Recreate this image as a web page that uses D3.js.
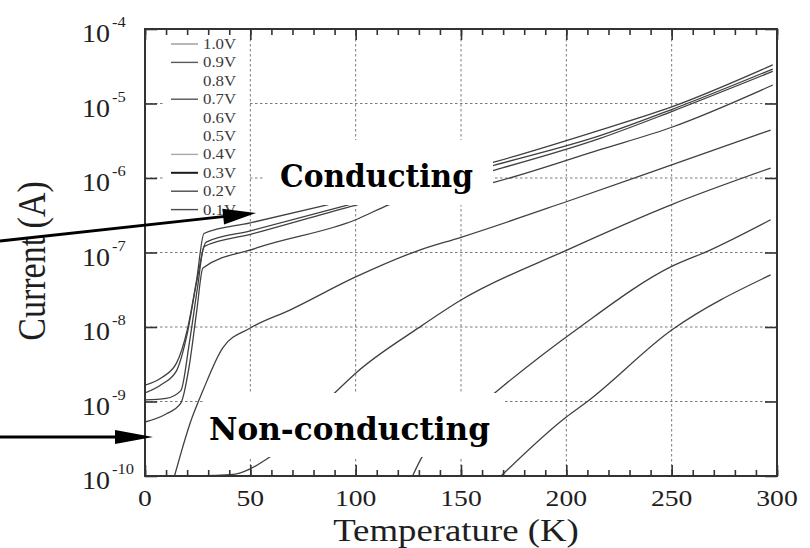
<!DOCTYPE html>
<html><head><meta charset="utf-8">
<script src="https://cdn.jsdelivr.net/npm/d3@7/dist/d3.min.js"></script>
<style>body{margin:0;background:#fff}svg{display:block}</style>
</head><body>
<svg id="c" width="810" height="548"></svg>
<script>
// ---------------- data ----------------
const xTickValues = [0, 50, 100, 150, 200, 250, 300];
const yExponents = [-4, -5, -6, -7, -8, -9, -10];
const legendLabels = ["1.0V","0.9V","0.8V","0.7V","0.6V","0.5V","0.4V","0.3V","0.2V","0.1V"];
const legendHasLine = [true, true, false, true, false, false, true, true, true, true];
const legendShade = ["#9a9a9a","#5a5a5a","","#555","","","#a8a8a8","#1a1a1a","#4a4a4a","#4a4a4a"];

// [temperature K, current A]
const curve10V = [[0,1.66e-9],[8,2.1e-9],[15,3.3e-9],[20,9e-9],[24.5,4.3e-8],[28,1.8e-7],[50,2.5e-7],[87,4.4e-7],[166,1.64e-6],[216,4.4e-6],[250,9e-6],[298,3.3e-5]];
const curve09V = [[0,1.3e-9],[8,1.7e-9],[15,2.6e-9],[20,8e-9],[24.5,4e-8],[29,1.38e-7],[50,1.95e-7],[97,4.4e-7],[166,1.49e-6],[216,3.7e-6],[250,8.3e-6],[298,2.9e-5]];
const curve08V = [[0,1.05e-9],[10,1.1e-9],[17,1.4e-9],[21,6e-9],[25,3.5e-8],[28,1.2e-7],[50,1.75e-7],[97,4.1e-7],[166,1.28e-6],[216,3.4e-6],[250,7.8e-6],[298,2.7e-5]];
const curve07V = [[0,5.3e-10],[10,6.8e-10],[17,9.5e-10],[21,3e-9],[24.5,1.6e-8],[27.5,6.2e-8],[53,1.15e-7],[100,2.75e-7],[116,4.4e-7],[166,8.8e-7],[216,2.4e-6],[250,4.8e-6],[298,1.77e-5]];
const curve04V = [[14,1e-10],[17,2e-10],[21.4,5.1e-10],[27.5,1.4e-9],[37,5.3e-9],[50,9.7e-9],[69,1.7e-8],[100,4.7e-8],[130,1.07e-7],[150,1.6e-7],[200,4.8e-7],[250,1.5e-6],[297,4.4e-6]];
const curve03V = [[22,1.0e-10],[42,1.05e-10],[50,1.25e-10],[58,1.7e-10],[90,1.3e-9],[100,2.4e-9],[130,9.8e-9],[150,2.3e-8],[200,1.07e-7],[250,4.4e-7],[297,1.36e-6]];
const curve02V = [[127,1.0e-10],[131,1.7e-10],[166,1.3e-9],[206,9.8e-9],[250,6.5e-8],[268,1.07e-7],[297,2.75e-7]];
const curve01V = [[169,1.0e-10],[200,6.2e-10],[210,1e-9],[250,9.1e-9],[297,5e-8]];
const curves = [curve10V, curve09V, curve08V, curve07V, curve04V, curve03V, curve02V, curve01V];

// ---------------- drawing ----------------
const svg = d3.select("#c");
const x = d3.scaleLinear().domain([0, 300]).range([145, 777]);
const y = d3.scaleLog().domain([1e-10, 1e-4]).range([476, 29]);
const X0 = x(0), X1 = x(300), Y0 = y(1e-10), Y1 = y(1e-4);
const serif = "'Liberation Serif','Times New Roman',serif";
const ink = "#1e1e1e";

function stretch(sel, k) {
  sel.each(function () {
    const L = this.getComputedTextLength();
    this.setAttribute("textLength", L * k);
    this.setAttribute("lengthAdjust", "spacingAndGlyphs");
  });
}

svg.append("rect").attr("width", 810).attr("height", 548).attr("fill", "#fff");

// grid
const grid = svg.append("g").attr("stroke", "#7a7a7a").attr("stroke-width", 1).attr("stroke-dasharray", "2.5,2.5");
grid.selectAll("line.v").data(xTickValues.slice(1, -1)).join("line")
  .attr("x1", d => x(d)).attr("x2", d => x(d)).attr("y1", Y1).attr("y2", Y0);
grid.selectAll("line.h").data(yExponents.slice(1, -1)).join("line")
  .attr("y1", d => y(Math.pow(10, d))).attr("y2", d => y(Math.pow(10, d))).attr("x1", X0).attr("x2", X1);

// curves
svg.append("clipPath").attr("id", "plot").append("rect")
  .attr("x", X0).attr("y", Y1).attr("width", X1 - X0).attr("height", Y0 - Y1);
const line = d3.line().x(d => x(d[0])).y(d => y(d[1])).curve(d3.curveMonotoneX);
svg.append("g").attr("clip-path", "url(#plot)")
  .selectAll("path").data(curves).join("path")
  .attr("d", line).attr("fill", "none").attr("stroke", "#404040").attr("stroke-width", 1.3);

// white label boxes
svg.append("rect").attr("x", 265).attr("y", 140).attr("width", 228).attr("height", 65).attr("fill", "#fff");
svg.append("rect").attr("x", 203).attr("y", 393).attr("width", 302).attr("height", 64).attr("fill", "#fff");
svg.append("rect").attr("x", 165).attr("y", 36).attr("width", 83).attr("height", 183).attr("fill", "#fff");

// legend
const lg = svg.append("g");
legendLabels.forEach((lab, i) => {
  const ly = 44 + i * 18.4;
  if (legendHasLine[i]) {
    lg.append("line").attr("x1", 171).attr("x2", 198).attr("y1", ly).attr("y2", ly)
      .attr("stroke", legendShade[i]).attr("stroke-width", i === 7 ? 2 : 1.4);
  }
  lg.append("text").attr("x", 203).attr("y", ly + 5).text(lab)
    .attr("font-family", serif).attr("font-size", 15).attr("fill", "#3a3a3a")
    .call(stretch, 1.12);
});

// axes (ticks via d3 axes, pointing inward)
const axT = d3.axisTop(x).tickValues(d3.range(0, 301, 10)).tickSize(-6).tickFormat("");
const axB = d3.axisBottom(x).tickValues(d3.range(0, 301, 10)).tickSize(-6).tickFormat("");
const axBm = d3.axisBottom(x).tickValues(xTickValues).tickSize(-11).tickFormat("");
const axTm = d3.axisTop(x).tickValues(xTickValues).tickSize(-11).tickFormat("");
const yVals = yExponents.map(e => Math.pow(10, e));
const axL = d3.axisLeft(y).tickValues(yVals).tickSize(-12).tickFormat("");
const axR = d3.axisRight(y).tickValues(yVals).tickSize(-12).tickFormat("");
function styleAxis(g) {
  g.select(".domain").remove();
  g.selectAll(".tick line").attr("stroke", "#333").attr("stroke-width", 1.6);
}
svg.append("g").attr("transform", `translate(0,${Y1})`).call(axT).call(styleAxis);
svg.append("g").attr("transform", `translate(0,${Y1})`).call(axTm).call(styleAxis);
svg.append("g").attr("transform", `translate(0,${Y0})`).call(axB).call(styleAxis);
svg.append("g").attr("transform", `translate(0,${Y0})`).call(axBm).call(styleAxis);
svg.append("g").attr("transform", `translate(${X0},0)`).call(axL).call(styleAxis);
svg.append("g").attr("transform", `translate(${X1},0)`).call(axR).call(styleAxis);

// frame
svg.append("rect").attr("x", X0).attr("y", Y1).attr("width", X1 - X0).attr("height", Y0 - Y1)
  .attr("fill", "none").attr("stroke", "#333").attr("stroke-width", 2);

// x tick labels
svg.append("g").selectAll("text").data(xTickValues).join("text")
  .attr("x", d => x(d)).attr("y", Y0 + 30).attr("text-anchor", "middle")
  .attr("font-family", serif).attr("font-size", 24).attr("fill", ink)
  .text(d => d).call(stretch, 1.15);

// y tick labels
const yl = svg.append("g").attr("font-family", serif).attr("fill", ink);
yl.selectAll("text.b").data(yExponents).join("text")
  .attr("x", 110).attr("y", d => y(Math.pow(10, d)) + 13).attr("text-anchor", "end")
  .attr("font-size", 25).text("10").call(stretch, 1.12);
yl.selectAll("text.e").data(yExponents).join("text")
  .attr("x", 112).attr("y", d => y(Math.pow(10, d)) - 2)
  .attr("font-size", 15).text(d => String(d)).call(stretch, 1.1);

// axis titles
svg.append("text").attr("x", 456).attr("y", 541).attr("text-anchor", "middle")
  .attr("font-family", serif).attr("font-size", 32).attr("fill", ink)
  .text("Temperature (K)").call(stretch, 1.15);
svg.append("text").attr("transform", "translate(45,261) scale(1.15,1) rotate(-90)")
  .attr("text-anchor", "middle").attr("font-family", serif).attr("font-size", 34).attr("fill", ink)
  .text("Current (A)");

// annotations
const bold = "'DejaVu Serif',serif";
svg.append("text").attr("x", 280).attr("y", 187).attr("font-family", bold).attr("font-weight", "bold")
  .attr("font-size", 31).attr("fill", "#000").text("Conducting")
  .attr("textLength", 193).attr("lengthAdjust", "spacingAndGlyphs");
svg.append("text").attr("x", 209).attr("y", 440).attr("font-family", bold).attr("font-weight", "bold")
  .attr("font-size", 31).attr("fill", "#000").text("Non-conducting")
  .attr("textLength", 281).attr("lengthAdjust", "spacingAndGlyphs");

function arrow(x1, y1, x2, y2, headLen, headHalf) {
  const dx = x2 - x1, dy = y2 - y1, L = Math.hypot(dx, dy);
  const ux = dx / L, uy = dy / L, nx = -uy, ny = ux;
  const bx = x2 - ux * headLen, by = y2 - uy * headLen;
  svg.append("line").attr("x1", x1).attr("y1", y1).attr("x2", bx + ux * 2).attr("y2", by + uy * 2)
    .attr("stroke", "#000").attr("stroke-width", 3);
  svg.append("path").attr("fill", "#000")
    .attr("d", `M${x2},${y2}L${bx + nx * headHalf},${by + ny * headHalf}L${bx - nx * headHalf},${by - ny * headHalf}Z`);
}
arrow(0, 241, 256, 213, 33, 8);
arrow(0, 437, 153, 437, 38, 7);
</script>
</body></html>
